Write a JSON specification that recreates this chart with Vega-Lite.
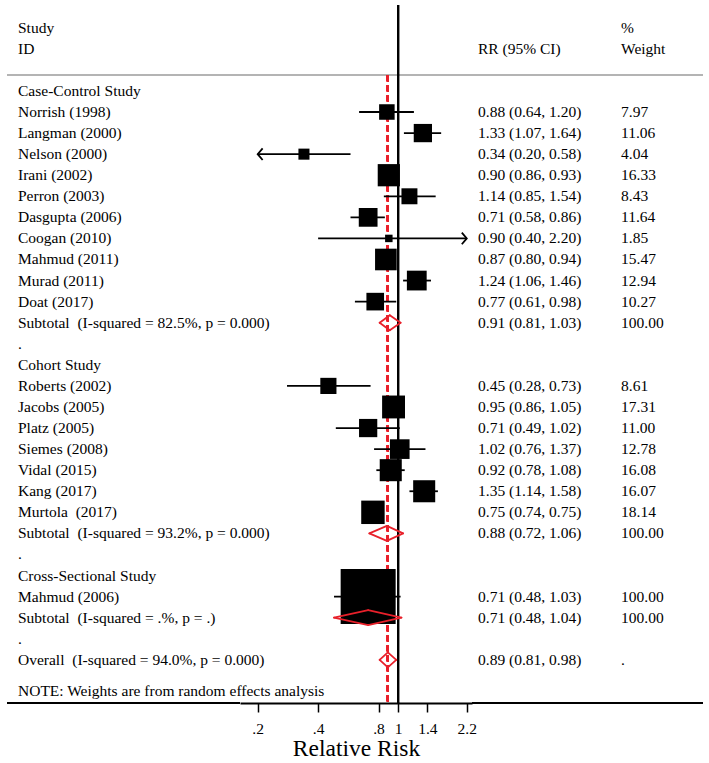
{
  "$schema": "https://vega.github.io/schema/vega-lite/v6.json",
  "background": "white",
  "padding": {"left": 6, "right": 7, "top": 0, "bottom": 0},
  "bounds": "flush",
  "spacing": 0,
  "datasets": {
    "rows": [
      {"row": -3, "label": "Study", "wt": "%"},
      {"row": -2, "label": "ID", "rr": "RR (95% CI)", "wt": "Weight"},
      {"row": 0, "label": "Case-Control Study", "kind": "group"},
      {"row": 1, "label": "Norrish (1998)", "kind": "study", "est": 0.88, "lo": 0.64, "hi": 1.20, "w": 7.97, "rr": "0.88 (0.64, 1.20)", "wt": "7.97"},
      {"row": 2, "label": "Langman (2000)", "kind": "study", "est": 1.33, "lo": 1.07, "hi": 1.64, "w": 11.06, "rr": "1.33 (1.07, 1.64)", "wt": "11.06"},
      {"row": 3, "label": "Nelson (2000)", "kind": "study", "est": 0.34, "lo": 0.20, "hi": 0.58, "w": 4.04, "rr": "0.34 (0.20, 0.58)", "wt": "4.04"},
      {"row": 4, "label": "Irani (2002)", "kind": "study", "est": 0.90, "lo": 0.86, "hi": 0.93, "w": 16.33, "rr": "0.90 (0.86, 0.93)", "wt": "16.33"},
      {"row": 5, "label": "Perron (2003)", "kind": "study", "est": 1.14, "lo": 0.85, "hi": 1.54, "w": 8.43, "rr": "1.14 (0.85, 1.54)", "wt": "8.43"},
      {"row": 6, "label": "Dasgupta (2006)", "kind": "study", "est": 0.71, "lo": 0.58, "hi": 0.86, "w": 11.64, "rr": "0.71 (0.58, 0.86)", "wt": "11.64"},
      {"row": 7, "label": "Coogan (2010)", "kind": "study", "est": 0.90, "lo": 0.40, "hi": 2.20, "w": 1.85, "rr": "0.90 (0.40, 2.20)", "wt": "1.85"},
      {"row": 8, "label": "Mahmud (2011)", "kind": "study", "est": 0.87, "lo": 0.80, "hi": 0.94, "w": 15.47, "rr": "0.87 (0.80, 0.94)", "wt": "15.47"},
      {"row": 9, "label": "Murad (2011)", "kind": "study", "est": 1.24, "lo": 1.06, "hi": 1.46, "w": 12.94, "rr": "1.24 (1.06, 1.46)", "wt": "12.94"},
      {"row": 10, "label": "Doat (2017)", "kind": "study", "est": 0.77, "lo": 0.61, "hi": 0.98, "w": 10.27, "rr": "0.77 (0.61, 0.98)", "wt": "10.27"},
      {"row": 11, "label": "Subtotal\u00a0 (I-squared = 82.5%, p = 0.000)", "kind": "subtotal", "est": 0.91, "lo": 0.81, "hi": 1.03, "rr": "0.91 (0.81, 1.03)", "wt": "100.00"},
      {"row": 12, "label": ".", "kind": "spacer"},
      {"row": 13, "label": "Cohort Study", "kind": "group"},
      {"row": 14, "label": "Roberts (2002)", "kind": "study", "est": 0.45, "lo": 0.28, "hi": 0.73, "w": 8.61, "rr": "0.45 (0.28, 0.73)", "wt": "8.61"},
      {"row": 15, "label": "Jacobs (2005)", "kind": "study", "est": 0.95, "lo": 0.86, "hi": 1.05, "w": 17.31, "rr": "0.95 (0.86, 1.05)", "wt": "17.31"},
      {"row": 16, "label": "Platz (2005)", "kind": "study", "est": 0.71, "lo": 0.49, "hi": 1.02, "w": 11.00, "rr": "0.71 (0.49, 1.02)", "wt": "11.00"},
      {"row": 17, "label": "Siemes (2008)", "kind": "study", "est": 1.02, "lo": 0.76, "hi": 1.37, "w": 12.78, "rr": "1.02 (0.76, 1.37)", "wt": "12.78"},
      {"row": 18, "label": "Vidal (2015)", "kind": "study", "est": 0.92, "lo": 0.78, "hi": 1.08, "w": 16.08, "rr": "0.92 (0.78, 1.08)", "wt": "16.08"},
      {"row": 19, "label": "Kang (2017)", "kind": "study", "est": 1.35, "lo": 1.14, "hi": 1.58, "w": 16.07, "rr": "1.35 (1.14, 1.58)", "wt": "16.07"},
      {"row": 20, "label": "Murtola\u00a0 (2017)", "kind": "study", "est": 0.75, "lo": 0.74, "hi": 0.75, "w": 18.14, "rr": "0.75 (0.74, 0.75)", "wt": "18.14"},
      {"row": 21, "label": "Subtotal\u00a0 (I-squared = 93.2%, p = 0.000)", "kind": "subtotal", "est": 0.88, "lo": 0.72, "hi": 1.06, "rr": "0.88 (0.72, 1.06)", "wt": "100.00"},
      {"row": 22, "label": ".", "kind": "spacer"},
      {"row": 23, "label": "Cross-Sectional Study", "kind": "group"},
      {"row": 24, "label": "Mahmud (2006)", "kind": "study", "est": 0.71, "lo": 0.48, "hi": 1.03, "w": 100.0, "rr": "0.71 (0.48, 1.03)", "wt": "100.00"},
      {"row": 25, "label": "Subtotal\u00a0 (I-squared = .%, p = .)", "kind": "subtotal", "est": 0.71, "lo": 0.48, "hi": 1.04, "rr": "0.71 (0.48, 1.04)", "wt": "100.00"},
      {"row": 26, "label": ".", "kind": "spacer"},
      {"row": 27, "label": "Overall\u00a0 (I-squared = 94.0%, p = 0.000)", "kind": "overall", "est": 0.89, "lo": 0.81, "hi": 0.98, "rr": "0.89 (0.81, 0.98)", "wt": "."},
      {"row": 28.5, "label": "NOTE: Weights are from random effects analysis", "kind": "note"}
    ]
  },
  "hconcat": [
    {
      "width": 233,
      "height": 703,
      "data": {"name": "rows"},
      "layer": [
        {
          "mark": {"type": "rule", "color": "#b4b4b4", "strokeWidth": 1.5},
          "encoding": {"y": {"datum": -0.74, "type": "quantitative", "scale": {"domain": [-4.316, 29.05], "reverse": true, "nice": false, "zero": false}, "axis": null}}
        },
        {
          "mark": {"type": "rule", "color": "#000000", "strokeWidth": 2},
          "encoding": {"y": {"datum": 29.05, "type": "quantitative", "scale": {"domain": [-4.316, 29.05], "reverse": true, "nice": false, "zero": false}, "axis": null}}
        },
        {
          "transform": [{"filter": "isValid(datum.label)"}],
          "mark": {"type": "text", "align": "left", "baseline": "middle", "dx": 11, "font": "Liberation Serif", "fontSize": 15.5, "color": "#000000"},
          "encoding": {
            "x": {"datum": 0, "type": "quantitative", "scale": {"domain": [0, 1]}, "axis": null},
            "y": {"field": "row", "type": "quantitative", "scale": {"domain": [-4.316, 29.05], "reverse": true, "nice": false, "zero": false}, "axis": null},
            "text": {"field": "label", "type": "nominal"}
          }
        }
      ]
    },
    {
      "width": 232,
      "height": 703,
      "data": {"name": "rows"},
      "layer": [
        {
          "mark": {"type": "rule", "color": "#b4b4b4", "strokeWidth": 1.5},
          "encoding": {"y": {"datum": -0.74, "type": "quantitative", "scale": {"domain": [-4.316, 29.05], "reverse": true, "nice": false, "zero": false}, "axis": null}}
        },
        {
          "mark": {"type": "rule", "color": "#000000", "strokeWidth": 2},
          "encoding": {
            "x": {"datum": 1, "type": "quantitative", "scale": {"type": "log", "domain": [0.1633, 2.336], "nice": false}, "title": "Relative Risk", "axis": {"values": [0.2, 0.4, 0.8, 1, 1.4, 2.2], "labelExpr": "datum.value < 1 ? '.' + substring(toString(datum.value), 2) : toString(datum.value)", "grid": false}},
            "y": {"datum": -4.08, "type": "quantitative", "scale": {"domain": [-4.316, 29.05], "reverse": true, "nice": false, "zero": false}, "axis": null},
            "y2": {"datum": 29.05}
          }
        },
        {
          "mark": {"type": "rule", "color": "#e8202a", "strokeWidth": 2, "strokeDash": [6, 4]},
          "encoding": {
            "x": {"datum": 0.89, "type": "quantitative", "scale": {"type": "log", "domain": [0.1633, 2.336], "nice": false}, "title": "Relative Risk", "axis": {"values": [0.2, 0.4, 0.8, 1, 1.4, 2.2], "labelExpr": "datum.value < 1 ? '.' + substring(toString(datum.value), 2) : toString(datum.value)", "grid": false}},
            "y": {"datum": -0.74, "type": "quantitative", "scale": {"domain": [-4.316, 29.05], "reverse": true, "nice": false, "zero": false}, "axis": null},
            "y2": {"datum": 29.05}
          }
        },
        {
          "transform": [{"filter": "datum.kind === 'study'"}],
          "mark": {"type": "rule", "color": "#000000", "strokeWidth": 1.8},
          "encoding": {
            "x": {"field": "lo", "type": "quantitative", "scale": {"type": "log", "domain": [0.1633, 2.336], "nice": false}, "title": "Relative Risk", "axis": {"values": [0.2, 0.4, 0.8, 1, 1.4, 2.2], "labelExpr": "datum.value < 1 ? '.' + substring(toString(datum.value), 2) : toString(datum.value)", "grid": false}},
            "x2": {"field": "hi"},
            "y": {"field": "row", "type": "quantitative", "scale": {"domain": [-4.316, 29.05], "reverse": true, "nice": false, "zero": false}, "axis": null}
          }
        },
        {
          "transform": [{"filter": "datum.kind === 'study' && datum.lo <= 0.2"}],
          "mark": {"type": "point", "shape": "M0.85,-1L0,0L0.85,1", "size": 136, "filled": false, "stroke": "#000000", "strokeWidth": 1.8, "opacity": 1},
          "encoding": {
            "x": {"field": "lo", "type": "quantitative", "scale": {"type": "log", "domain": [0.1633, 2.336], "nice": false}, "title": "Relative Risk", "axis": {"values": [0.2, 0.4, 0.8, 1, 1.4, 2.2], "labelExpr": "datum.value < 1 ? '.' + substring(toString(datum.value), 2) : toString(datum.value)", "grid": false}},
            "y": {"field": "row", "type": "quantitative", "scale": {"domain": [-4.316, 29.05], "reverse": true, "nice": false, "zero": false}, "axis": null}
          }
        },
        {
          "transform": [{"filter": "datum.kind === 'study' && datum.hi >= 2.2"}],
          "mark": {"type": "point", "shape": "M-0.85,-1L0,0L-0.85,1", "size": 136, "filled": false, "stroke": "#000000", "strokeWidth": 1.8, "opacity": 1},
          "encoding": {
            "x": {"field": "hi", "type": "quantitative", "scale": {"type": "log", "domain": [0.1633, 2.336], "nice": false}, "title": "Relative Risk", "axis": {"values": [0.2, 0.4, 0.8, 1, 1.4, 2.2], "labelExpr": "datum.value < 1 ? '.' + substring(toString(datum.value), 2) : toString(datum.value)", "grid": false}},
            "y": {"field": "row", "type": "quantitative", "scale": {"domain": [-4.316, 29.05], "reverse": true, "nice": false, "zero": false}, "axis": null}
          }
        },
        {
          "transform": [{"filter": "datum.kind === 'study'"}],
          "mark": {"type": "point", "shape": "square", "filled": true, "color": "#000000", "opacity": 1, "strokeWidth": 0},
          "encoding": {
            "x": {"field": "est", "type": "quantitative", "scale": {"type": "log", "domain": [0.1633, 2.336], "nice": false}, "title": "Relative Risk", "axis": {"values": [0.2, 0.4, 0.8, 1, 1.4, 2.2], "labelExpr": "datum.value < 1 ? '.' + substring(toString(datum.value), 2) : toString(datum.value)", "grid": false}},
            "y": {"field": "row", "type": "quantitative", "scale": {"domain": [-4.316, 29.05], "reverse": true, "nice": false, "zero": false}, "axis": null},
            "size": {"field": "w", "type": "quantitative", "scale": {"type": "linear", "domain": [0, 100], "range": [0, 3025], "zero": true}, "legend": null}
          }
        },
        {
          "transform": [{"filter": "datum.kind === 'subtotal' || datum.kind === 'overall'"}],
          "mark": {"type": "rule", "color": "#e8202a", "strokeWidth": 1.8, "strokeCap": "round", "y2Offset": -7.5},
          "encoding": {
            "x": {"field": "lo", "type": "quantitative", "scale": {"type": "log", "domain": [0.1633, 2.336], "nice": false}, "title": "Relative Risk", "axis": {"values": [0.2, 0.4, 0.8, 1, 1.4, 2.2], "labelExpr": "datum.value < 1 ? '.' + substring(toString(datum.value), 2) : toString(datum.value)", "grid": false}},
            "x2": {"field": "est"},
            "y": {"field": "row", "type": "quantitative", "scale": {"domain": [-4.316, 29.05], "reverse": true, "nice": false, "zero": false}, "axis": null},
            "y2": {"field": "row"}
          }
        },
        {
          "transform": [{"filter": "datum.kind === 'subtotal' || datum.kind === 'overall'"}],
          "mark": {"type": "rule", "color": "#e8202a", "strokeWidth": 1.8, "strokeCap": "round", "yOffset": -7.5},
          "encoding": {
            "x": {"field": "est", "type": "quantitative", "scale": {"type": "log", "domain": [0.1633, 2.336], "nice": false}, "title": "Relative Risk", "axis": {"values": [0.2, 0.4, 0.8, 1, 1.4, 2.2], "labelExpr": "datum.value < 1 ? '.' + substring(toString(datum.value), 2) : toString(datum.value)", "grid": false}},
            "x2": {"field": "hi"},
            "y": {"field": "row", "type": "quantitative", "scale": {"domain": [-4.316, 29.05], "reverse": true, "nice": false, "zero": false}, "axis": null},
            "y2": {"field": "row"}
          }
        },
        {
          "transform": [{"filter": "datum.kind === 'subtotal' || datum.kind === 'overall'"}],
          "mark": {"type": "rule", "color": "#e8202a", "strokeWidth": 1.8, "strokeCap": "round", "y2Offset": 7.5},
          "encoding": {
            "x": {"field": "hi", "type": "quantitative", "scale": {"type": "log", "domain": [0.1633, 2.336], "nice": false}, "title": "Relative Risk", "axis": {"values": [0.2, 0.4, 0.8, 1, 1.4, 2.2], "labelExpr": "datum.value < 1 ? '.' + substring(toString(datum.value), 2) : toString(datum.value)", "grid": false}},
            "x2": {"field": "est"},
            "y": {"field": "row", "type": "quantitative", "scale": {"domain": [-4.316, 29.05], "reverse": true, "nice": false, "zero": false}, "axis": null},
            "y2": {"field": "row"}
          }
        },
        {
          "transform": [{"filter": "datum.kind === 'subtotal' || datum.kind === 'overall'"}],
          "mark": {"type": "rule", "color": "#e8202a", "strokeWidth": 1.8, "strokeCap": "round", "yOffset": 7.5},
          "encoding": {
            "x": {"field": "est", "type": "quantitative", "scale": {"type": "log", "domain": [0.1633, 2.336], "nice": false}, "title": "Relative Risk", "axis": {"values": [0.2, 0.4, 0.8, 1, 1.4, 2.2], "labelExpr": "datum.value < 1 ? '.' + substring(toString(datum.value), 2) : toString(datum.value)", "grid": false}},
            "x2": {"field": "lo"},
            "y": {"field": "row", "type": "quantitative", "scale": {"domain": [-4.316, 29.05], "reverse": true, "nice": false, "zero": false}, "axis": null},
            "y2": {"field": "row"}
          }
        }
      ]
    },
    {
      "width": 143,
      "height": 703,
      "data": {"name": "rows"},
      "layer": [
        {
          "mark": {"type": "rule", "color": "#b4b4b4", "strokeWidth": 1.5},
          "encoding": {"y": {"datum": -0.74, "type": "quantitative", "scale": {"domain": [-4.316, 29.05], "reverse": true, "nice": false, "zero": false}, "axis": null}}
        },
        {
          "mark": {"type": "rule", "color": "#000000", "strokeWidth": 2},
          "encoding": {"y": {"datum": 29.05, "type": "quantitative", "scale": {"domain": [-4.316, 29.05], "reverse": true, "nice": false, "zero": false}, "axis": null}}
        },
        {
          "transform": [{"filter": "isValid(datum.rr)"}],
          "mark": {"type": "text", "align": "left", "baseline": "middle", "dx": 6, "font": "Liberation Serif", "fontSize": 15.5, "color": "#000000"},
          "encoding": {
            "x": {"datum": 0, "type": "quantitative", "scale": {"domain": [0, 1]}, "axis": null},
            "y": {"field": "row", "type": "quantitative", "scale": {"domain": [-4.316, 29.05], "reverse": true, "nice": false, "zero": false}, "axis": null},
            "text": {"field": "rr", "type": "nominal"}
          }
        }
      ]
    },
    {
      "width": 88,
      "height": 703,
      "data": {"name": "rows"},
      "layer": [
        {
          "mark": {"type": "rule", "color": "#b4b4b4", "strokeWidth": 1.5},
          "encoding": {"y": {"datum": -0.74, "type": "quantitative", "scale": {"domain": [-4.316, 29.05], "reverse": true, "nice": false, "zero": false}, "axis": null}}
        },
        {
          "mark": {"type": "rule", "color": "#000000", "strokeWidth": 2},
          "encoding": {"y": {"datum": 29.05, "type": "quantitative", "scale": {"domain": [-4.316, 29.05], "reverse": true, "nice": false, "zero": false}, "axis": null}}
        },
        {
          "transform": [{"filter": "isValid(datum.wt)"}],
          "mark": {"type": "text", "align": "left", "baseline": "middle", "dx": 6, "font": "Liberation Serif", "fontSize": 15.5, "color": "#000000"},
          "encoding": {
            "x": {"datum": 0, "type": "quantitative", "scale": {"domain": [0, 1]}, "axis": null},
            "y": {"field": "row", "type": "quantitative", "scale": {"domain": [-4.316, 29.05], "reverse": true, "nice": false, "zero": false}, "axis": null},
            "text": {"field": "wt", "type": "nominal"}
          }
        }
      ]
    }
  ],
  "config": {
    "view": {"stroke": null},
    "concat": {"spacing": 0},
    "axis": {
      "domainColor": "#000000",
      "domainWidth": 2,
      "tickColor": "#000000",
      "tickWidth": 1.5,
      "tickSize": 9,
      "labelFont": "Liberation Serif",
      "labelFontSize": 15.5,
      "labelColor": "#000000",
      "labelPadding": 9,
      "labelFlush": false,
      "labelOverlap": false,
      "labelBound": false,
      "titleFont": "Liberation Serif",
      "titleFontSize": 23.5,
      "titleFontWeight": "normal",
      "titleColor": "#000000",
      "titlePadding": 0
    }
  }
}
